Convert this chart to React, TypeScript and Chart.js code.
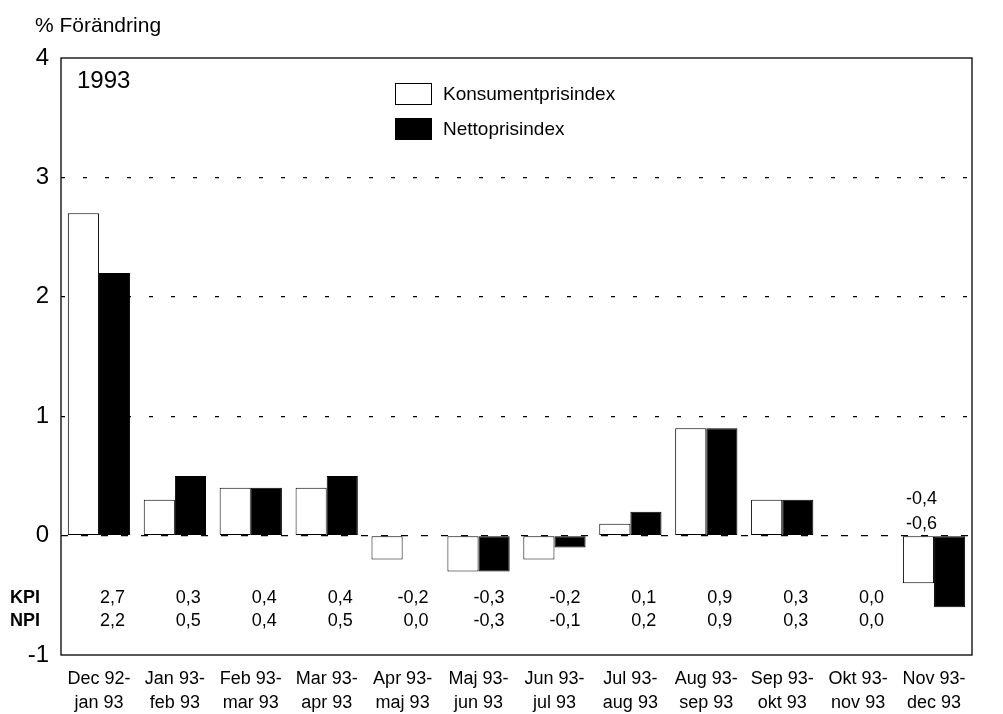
import React, { useEffect, useRef } from "react";
import { Chart, registerables } from "chart.js";

Chart.register(...registerables);

const categories: string[][] = [
  ["Dec 92-", "jan 93"],
  ["Jan 93-", "feb 93"],
  ["Feb 93-", "mar 93"],
  ["Mar 93-", "apr 93"],
  ["Apr 93-", "maj 93"],
  ["Maj 93-", "jun 93"],
  ["Jun 93-", "jul 93"],
  ["Jul 93-", "aug 93"],
  ["Aug 93-", "sep 93"],
  ["Sep 93-", "okt 93"],
  ["Okt 93-", "nov 93"],
  ["Nov 93-", "dec 93"],
];
const kpi: number[] = [2.7, 0.3, 0.4, 0.4, -0.2, -0.3, -0.2, 0.1, 0.9, 0.3, 0.0, -0.4];
const npi: number[] = [2.2, 0.5, 0.4, 0.5, 0.0, -0.3, -0.1, 0.2, 0.9, 0.3, 0.0, -0.6];
const seriesNames: string[] = ["Konsumentprisindex", "Nettoprisindex"];
const rowLabels: string[] = ["KPI", "NPI"];
const yTickValues: number[] = [-1, 0, 1, 2, 3, 4];
const yearLabel = "1993";
const yAxisTitle = "% Förändring";
const aboveIndex = 11; // category whose values are printed above its bars

const FONT = "'Liberation Sans', Arial, Helvetica, sans-serif";
const fmt = (v: number) => v.toFixed(1).replace(".", ",").replace(/^-?0,0$/, "0,0");

const overlay = {
  id: "overlay",
  afterDraw(chart: any) {
    const { ctx, chartArea: a, scales } = chart;
    const x = scales.x;
    const y = scales.y;
    ctx.save();
    // frame
    ctx.strokeStyle = "#000";
    ctx.lineWidth = 1.3;
    ctx.setLineDash([]);
    ctx.strokeRect(a.left, a.top, a.right - a.left, a.bottom - a.top);

    ctx.fillStyle = "#000";
    ctx.textBaseline = "middle";
    // axis title
    ctx.textAlign = "left";
    ctx.font = `21px ${FONT}`;
    ctx.fillText(yAxisTitle, 35, 26);
    // year
    ctx.font = `24px ${FONT}`;
    ctx.fillText(yearLabel, 77, 81);

    // legend from datasets
    const ds = chart.data.datasets;
    ds.forEach((d: any, i: number) => {
      const bx = 395;
      const by = 83 + i * 35;
      ctx.fillStyle = d.backgroundColor;
      ctx.fillRect(bx, by, 37, 22);
      ctx.strokeStyle = "#000";
      ctx.lineWidth = 1;
      ctx.strokeRect(bx + 0.5, by + 0.5, 36, 21);
      ctx.fillStyle = "#000";
      ctx.font = `19px ${FONT}`;
      ctx.textAlign = "left";
      ctx.fillText(d.label, 443, by + 12);
    });

    // row labels and values
    const rows = [kpi, npi];
    const rowVals = [-0.526, -0.718];
    const aboveVals = [0.31, 0.1];
    rows.forEach((vals, r) => {
      const py = y.getPixelForValue(rowVals[r]);
      ctx.font = `bold 18px ${FONT}`;
      ctx.textAlign = "left";
      ctx.fillText(rowLabels[r], 10, py);
      ctx.font = `18px ${FONT}`;
      ctx.textAlign = "right";
      vals.forEach((v, i) => {
        const cx = x.getPixelForValue(i);
        if (i === aboveIndex) {
          ctx.fillText(fmt(v), cx + 3, y.getPixelForValue(aboveVals[r]));
        } else {
          ctx.fillText(fmt(v), cx + 26, py);
        }
      });
    });
    ctx.restore();
  },
};

export default function App() {
  const ref = useRef<HTMLCanvasElement | null>(null);
  useEffect(() => {
    if (!ref.current) return;
    const chart = new Chart(ref.current, {
      type: "bar",
      data: {
        labels: categories,
        datasets: [
          {
            label: seriesNames[0],
            data: kpi,
            backgroundColor: "#ffffff",
            borderColor: "#000000",
            borderWidth: 1,
            borderSkipped: false,
            categoryPercentage: 0.82,
            barPercentage: 1.0,
          },
          {
            label: seriesNames[1],
            data: npi,
            backgroundColor: "#000000",
            borderColor: "#000000",
            borderWidth: 1,
            borderSkipped: false,
            categoryPercentage: 0.82,
            barPercentage: 1.0,
          },
        ],
      },
      options: {
        animation: false,
        responsive: true,
        maintainAspectRatio: false,
        layout: { padding: { top: 58, right: 31, left: 0, bottom: 0 } },
        plugins: {
          legend: { display: false },
          tooltip: { enabled: false },
          title: { display: false },
        },
        scales: {
          x: {
            grid: { display: false },
            border: { display: false },
            ticks: {
              color: "#000",
              font: { size: 18, family: FONT, lineHeight: 1.35 },
              padding: 4,
              maxRotation: 0,
              autoSkip: false,
            },
            afterFit: (s: any) => {
              s.height = 59;
            },
          },
          y: {
            min: -1,
            max: 4,
            afterBuildTicks: (s: any) => {
              s.ticks = yTickValues.map((v) => ({ value: v }));
            },
            grid: {
              color: (c: any) =>
                c.tick && (c.tick.value === -1 || c.tick.value === 4) ? "rgba(0,0,0,0)" : "#000",
              lineWidth: 1.3,
              drawTicks: false,
            },
            border: {
              display: false,
              dash: (c: any) => (c.tick && c.tick.value === 0 ? [7, 13] : [4, 18]),
            } as any,
            ticks: {
              color: "#000",
              font: { size: 24, family: FONT },
              padding: 12,
              callback: (v: any) => String(v),
            },
            afterFit: (s: any) => {
              s.width = 61;
            },
          },
        },
      },
      plugins: [overlay],
    });
    return () => chart.destroy();
  }, []);
  return (
    <div style={{ position: "fixed", left: 0, top: 0, width: 1003, height: 714, background: "#fff" }}>
      <canvas ref={ref} />
    </div>
  );
}
